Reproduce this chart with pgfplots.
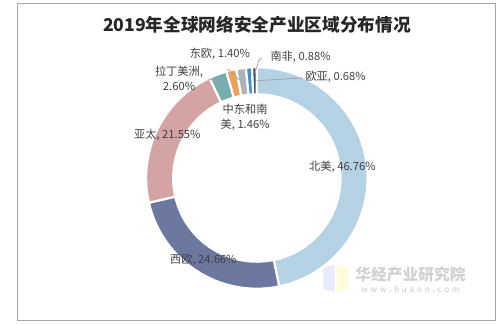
\documentclass[border=0pt]{standalone}
\usepackage{pgfplots}
\usepackage{pgfplotstable}
\pgfplotsset{compat=1.18}
\usepackage{fontspec}
\newfontfamily\cjk{Noto Sans CJK SC}
\definecolor{cNA}{HTML}{B5D2E5}
\definecolor{cWE}{HTML}{6C789F}
\definecolor{cAP}{HTML}{D4A3A3}
\definecolor{cLA}{HTML}{76AEAE}
\definecolor{cME}{HTML}{F0A157}
\definecolor{cEE}{HTML}{ADB2B6}
\definecolor{cSA}{HTML}{408FCC}
\definecolor{cEA}{HTML}{3D4B7A}
\definecolor{txt}{HTML}{404040}
\definecolor{lead}{HTML}{A6A6A6}

\pgfplotstableread[col sep=comma]{
region,value,col
北美,46.76,cNA
西欧,24.66,cWE
亚太,21.55,cAP
拉丁美洲,2.60,cLA
中东和南美,1.46,cME
东欧,1.40,cEE
南非,0.88,cSA
欧亚,0.68,cEA
}\shares

\begin{document}
\def\sectors{}
\def\cum{0}
\pgfplotsforeachungrouped \i in {0,...,7}{%
  \pgfplotstablegetelem{\i}{value}\of\shares \let\myval\pgfplotsretval
  \pgfplotstablegetelem{\i}{col}\of\shares \let\mycol\pgfplotsretval
  \pgfmathsetmacro\angS{90-3.6*\cum}%
  \pgfmathsetmacro\angE{90-3.6*(\cum+\myval)}%
  \pgfmathsetmacro\cum{\cum+\myval}%
  \xdef\sectors{\sectors\noexpand\fill[\mycol,draw=white,line width=1.6pt] (axis cs:250,150) ++(\angS:2.845cm) arc[start angle=\angS,end angle=\angE,radius=2.845cm] -- ++(\angE:-0.695cm) arc[start angle=\angE,end angle=\angS,radius=2.15cm] -- cycle;}%
}
\begin{tikzpicture}
\begin{axis}[
  x=0.025cm, y=0.025cm,
  xmin=0, xmax=500, ymin=0, ymax=333,
  hide axis, clip=false, scale only axis,
]
\path (axis cs:0,0) rectangle (axis cs:500,333);
\draw[color=black!35, line width=0.7pt] (axis cs:4,4) rectangle (axis cs:495,329);
% watermark
\fill[blue!8] (axis cs:318,58) -- (axis cs:330,61) -- (axis cs:330,33) -- (axis cs:318,36) -- cycle;
\fill[yellow!15] (axis cs:332,61) -- (axis cs:344,58) -- (axis cs:344,36) -- (axis cs:332,33) -- cycle;
\node[text=black!18, font=\cjk\bfseries\fontsize{11.5pt}{13pt}\selectfont] at (axis cs:408,51) {华经产业研究院};
\node[text=black!22, font=\cjk\fontsize{6pt}{7pt}\selectfont] at (axis cs:408,36) {w\,\,w\,\,w\,\,.\,\,h\,\,u\,\,a\,\,o\,\,n\,\,.\,\,c\,\,o\,\,m};
% title
\node[text=black!85, font=\cjk\bfseries\fontsize{12.9pt}{15pt}\selectfont] at (axis cs:250,308) {2019年全球网络安全产业区域分布情况};
% sectors
\sectors
% leader lines
\draw[lead, line width=0.6pt] (axis cs:200,252) -- (axis cs:214,248);
\draw[lead, line width=0.6pt] (axis cs:220,262) -- (axis cs:232,251);
\draw[lead, line width=0.6pt] (axis cs:255,273) -- (axis cs:252,271) -- (axis cs:248,258);
\draw[lead, line width=0.6pt] (axis cs:297,253) -- (axis cs:250,250);
% labels
\begin{scope}[every node/.style={text=txt, font=\cjk\fontsize{8.2pt}{11pt}\selectfont, inner sep=0pt}]
\node at (axis cs:338,161) {北美, 46.76\%};
\node at (axis cs:195,66) {西欧, 24.66\%};
\node at (axis cs:158,194) {亚太, 21.55\%};
\node[align=center] at (axis cs:170,252) {拉丁美洲,\\2.60\%};
\node[align=center] at (axis cs:238,212) {中东和南\\美, 1.46\%};
\node at (axis cs:212,278) {东欧, 1.40\%};
\node at (axis cs:295,275) {南非, 0.88\%};
\node at (axis cs:331,254) {欧亚, 0.68\%};
\end{scope}
\end{axis}
\end{tikzpicture}
\end{document}
